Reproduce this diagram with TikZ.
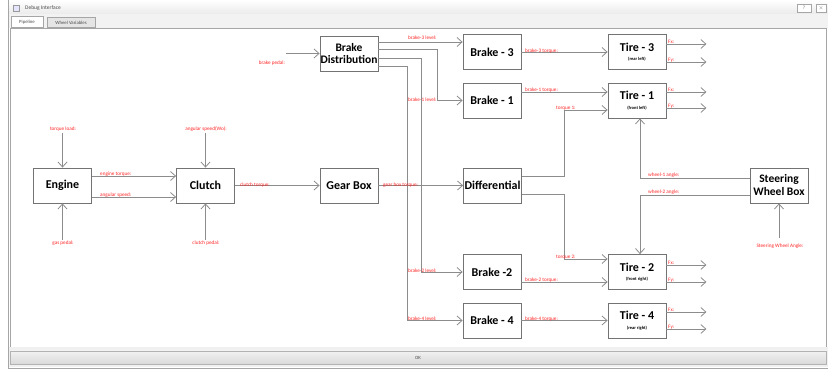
\documentclass[tikz,border=0pt]{standalone}
\usepackage{fontspec}
\setmainfont{Carlito}
\usetikzlibrary{arrows.meta,calc}
\begin{document}
\begin{tikzpicture}[x=1pt,y=-1pt,
  box/.style={draw=black!55, line width=0.8pt, fill=white, minimum width=58pt,
    minimum height=35pt, inner sep=0pt, align=center,
    font=\bfseries\fontsize{12}{12.5}\selectfont},
  wire/.style={draw=black!45, line width=0.8pt,
    -{Straight Barb[length=5pt,width=9pt,line width=0.8pt]}},
  lbl/.style={text=red!85, font=\fontsize{5.2}{6}\selectfont, inner sep=0pt},
  chrome/.style={font=\fontsize{5.5}{6}\selectfont, text=black!70, inner sep=0pt}]

\useasboundingbox (0,0) rectangle (828,371);

% ---------- window frame ----------
\fill[white] (0,0) rectangle (828,371);
\fill[top color=white, bottom color=blue!6!black!8] (8,0) rectangle (828,14);
\draw[black!35, line width=0.6pt] (8,0) -- (8,368) -- (828,368);
\node[draw=black!40, fill=blue!10, minimum size=6pt, inner sep=0pt] (icon) at (16,8) {};
\node[chrome, anchor=west] (title) at (25,8) {Debug Interface};
\node[draw=black!35, fill=white, minimum width=14pt, minimum height=8pt, inner sep=0pt,
  font=\fontsize{5}{5}\selectfont, text=black!60] (help) at (804,8) {?};
\node[draw=black!35, fill=white, minimum width=10pt, minimum height=8pt, inner sep=0pt,
  font=\fontsize{5}{5}\selectfont, text=black!60] (close) at (821,8) {$\times$};
\fill[black!5] (9,14) rectangle (828,28);
\node[draw=black!35, fill=white, minimum width=32pt, minimum height=11pt, inner sep=0pt,
  chrome, font=\fontsize{4.8}{5}\selectfont] (tabpipe) at (27,22) {Pipeline};
\node[draw=black!35, fill=black!10, minimum width=48pt, minimum height=10pt, inner sep=0pt,
  chrome, font=\fontsize{4.8}{5}\selectfont] (tabwheel) at (71,22.5) {Wheel Variables};
\draw[black!35, fill=white, line width=0.6pt] (10,28) rectangle (826,347);
\fill[black!6] (9,347.5) rectangle (828,367.5);
\node[draw=black!30, top color=black!5, bottom color=black!15, minimum width=816pt,
  minimum height=13pt, inner sep=0pt, chrome, font=\fontsize{4.8}{5}\selectfont] (ok) at (418,357.5) {OK};

% ---------- blocks ----------
\node[box] (eng) at (62.5,185.5) {Engine};
\node[box] (clu) at (205.5,185.5) {Clutch};
\node[box] (gb)  at (349,185.5) {Gear Box};
\node[box] (dif) at (492.5,185.5) {Differential};
\node[box, font=\bfseries\fontsize{11.5}{12}\selectfont] (bd) at (349,53.5) {Brake\\Distribution};
\node[box] (b3) at (492,52) {Brake - 3};
\node[box] (b1) at (492,100.5) {Brake - 1};
\node[box] (b2) at (492,272) {Brake -2};
\node[box] (b4) at (492,320.5) {Brake - 4};
\node[box] (t3) at (637,52) {Tire - 3\\[-3pt]{\fontsize{4.5}{5}\selectfont (rear left)}};
\node[box] (t1) at (637,100.5) {Tire - 1\\[-3pt]{\fontsize{4.5}{5}\selectfont (front left)}};
\node[box] (t2) at (637,272) {Tire - 2\\[-3pt]{\fontsize{4.5}{5}\selectfont (front right)}};
\node[box] (t4) at (637,320.5) {Tire - 4\\[-3pt]{\fontsize{4.5}{5}\selectfont (rear right)}};
\node[box, font=\bfseries\fontsize{11.5}{13}\selectfont] (swb) at (779,185.5) {Steering\\Wheel Box};

% ---------- free ends ----------
\coordinate (tlin) at (62.5,133);
\coordinate (gpin) at (62.5,240);
\coordinate (wsin) at (205.5,133);
\coordinate (cpin) at (205.5,240);
\coordinate (bpin) at (286,53.5);
\coordinate (swin) at (779,238);

% ---------- connectors ----------
\draw[wire] (tlin) -- (eng.north);
\draw[wire] (gpin) -- (eng.south);
\draw[wire] (wsin) -- (clu.north);
\draw[wire] (cpin) -- (clu.south);
\draw[wire] (eng.east |- 0,176) -- (clu.west |- 0,176);
\draw[wire] (eng.east |- 0,197) -- (clu.west |- 0,197);
\draw[wire] (clu.east) -- (gb.west);
\draw[wire] (gb.east) -- (dif.west);
\draw[wire] (bpin) -- (bd.west);

\draw[wire] (bd.east |- 0,42) -- (b3.west |- 0,42);
\draw[wire] (bd.east |- 0,49) -| (437,100.5) -- (b1.west);
\draw[wire] (bd.east |- 0,58) -| (421,272) -- (b2.west);
\draw[wire] (bd.east |- 0,66) -| (407,320.5) -- (b4.west);

\draw[wire] (b3.east) -- (t3.west);
\draw[wire] (b1.east |- 0,92) -- (t1.west |- 0,92);
\draw[wire] (b2.east |- 0,282) -- (t2.west |- 0,282);
\draw[wire] (b4.east) -- (t4.west);

\draw[wire] (dif.east |- 0,176) -| (564,110) -- (t1.west |- 0,110);
\draw[wire] (dif.east |- 0,194) -| (564,259) -- (t2.west |- 0,259);

\draw[wire] (swb.west |- 0,178) -| ([xshift=3pt]t1.south);
\draw[wire] (swb.west |- 0,195) -| ([xshift=3pt]t2.north);
\draw[wire] (swin) -- (swb.south);

\foreach \t/\a/\b in {t3/44/62, t1/92/108, t2/265/282, t4/312/329}{
  \draw[wire] (\t.east |- 0,\a) -- ++(40,0);
  \draw[wire] (\t.east |- 0,\b) -- ++(40,0);
  \node[lbl, anchor=west] at (668,\a-2) {Fx:};
  \node[lbl, anchor=west] at (668,\b-2) {Fy:};
}

% ---------- signal labels ----------
\node[lbl] at (63,129) {torque load:};
\node[lbl] at (63,243) {gas pedal:};
\node[lbl] at (206,129) {angular speed(Wo):};
\node[lbl] at (206,243) {clutch pedal:};
\node[lbl, anchor=west] at (100,174) {engine torque:};
\node[lbl, anchor=west] at (100,195.5) {angular speed:};
\node[lbl, anchor=west] at (240,185) {clutch torque:};
\node[lbl, anchor=west] at (383,185) {gear box torque:};
\node[lbl] at (272,63) {brake pedal:};
\node[lbl, anchor=west] at (408,37.5) {brake-3 level:};
\node[lbl, anchor=west] at (408,99.5) {brake-1 level:};
\node[lbl, anchor=west] at (408,271) {brake-2 level:};
\node[lbl, anchor=west] at (408,319) {brake-4 level:};
\node[lbl, anchor=west] at (525,51.5) {brake-3 torque:};
\node[lbl, anchor=west] at (525,90) {brake-1 torque:};
\node[lbl, anchor=west] at (556,108.5) {torque 1:};
\node[lbl, anchor=west] at (525,280) {brake-2 torque:};
\node[lbl, anchor=west] at (525,319) {brake-4 torque:};
\node[lbl, anchor=west] at (556,257.5) {torque 2:};
\node[lbl, anchor=west] at (648,175.5) {wheel-1 angle:};
\node[lbl, anchor=west] at (648,192.5) {wheel-2 angle:};
\node[lbl] at (780,246) {Steering Wheel Angle:};
\end{tikzpicture}
\end{document}
